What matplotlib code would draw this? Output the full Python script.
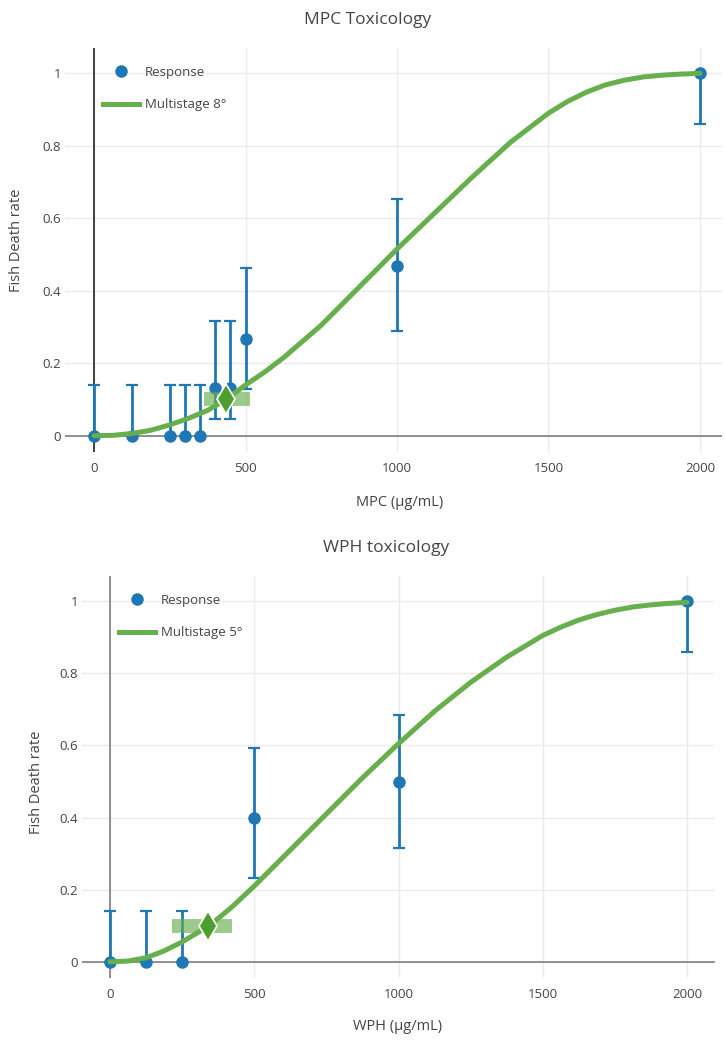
import matplotlib
matplotlib.use("Agg")
import matplotlib.pyplot as plt
from matplotlib.lines import Line2D

plt.rcParams["font.family"] = ["Open Sans", "DejaVu Sans"]

# MPC panel
mpc_dose = [0, 125, 250, 300, 350, 400, 450, 500, 1000, 2000]
mpc_resp = [0, 0, 0, 0, 0, 0.133, 0.133, 0.267, 0.467, 1.0]
mpc_lo = [0, 0, 0, 0, 0, 0.045, 0.045, 0.13, 0.288, 0.86]
mpc_hi = [0.14, 0.14, 0.14, 0.14, 0.14, 0.317, 0.317, 0.462, 0.654, 1.0]
mpc_fit_x = [0, 62, 125, 187, 250, 312, 375, 436, 500, 562, 625, 750, 875,
             1000, 1125, 1250, 1375, 1500, 1562, 1625, 1687, 1750, 1812,
             1875, 1937, 2000]
mpc_fit_y = [0, 0.001, 0.006, 0.015, 0.03, 0.048, 0.07, 0.1, 0.14, 0.175,
             0.215, 0.305, 0.41, 0.515, 0.615, 0.715, 0.81, 0.89, 0.922,
             0.948, 0.968, 0.981, 0.99, 0.995, 0.998, 1.0]
mpc_bmd = [363, 436, 515]  # BMDL, BMD, BMDU

# WPH panel
wph_dose = [0, 125, 250, 500, 1000, 2000]
wph_resp = [0, 0, 0, 0.4, 0.5, 1.0]
wph_lo = [0, 0, 0, 0.232, 0.316, 0.86]
wph_hi = [0.14, 0.14, 0.14, 0.593, 0.684, 1.0]
wph_fit_x = [0, 62, 125, 187, 250, 344, 420, 500, 625, 750, 875, 1000, 1125,
             1250, 1375, 1500, 1562, 1625, 1687, 1750, 1812, 1875, 1937, 2000]
wph_fit_y = [0, 0.002, 0.011, 0.03, 0.055, 0.1, 0.15, 0.21, 0.31, 0.41, 0.51,
             0.605, 0.695, 0.775, 0.845, 0.905, 0.928, 0.948, 0.963, 0.975,
             0.984, 0.99, 0.994, 0.997]
wph_bmd = [215, 340, 423]

BMR = 0.1
BLUE = "#1f77b4"
GREEN = "#67ae4c"
TEXT = "#444444"
W, H = 725, 1042


def fx(px):
    return px / W


def fy(py):
    return 1 - py / H


def panel(ax, dose, resp, lo, hi, fit_x, fit_y, bmd, xlim, fit_label, vline):
    yerr = [[r - l for r, l in zip(resp, lo)], [h - r for r, h in zip(resp, hi)]]
    ax.errorbar(dose, resp, yerr=yerr, fmt="o", color=BLUE, ms=8, elinewidth=2,
                capsize=4, capthick=1.6, zorder=3)
    ax.plot(fit_x, fit_y, color=GREEN, lw=3.6, zorder=4,
            solid_capstyle="round", solid_joinstyle="round")
    ax.plot([bmd[0], bmd[2]], [BMR, BMR], color=GREEN, alpha=0.65, lw=10,
            solid_capstyle="butt", zorder=5)
    ax.plot([bmd[1]], [BMR], marker="d", ms=15, color="#4c9e2e",
            mec="white", mew=1.2, zorder=6)

    ax.set_xlim(*xlim)
    ax.set_ylim(-0.045, 1.08)
    ax.set_xticks([0, 500, 1000, 1500, 2000])
    ax.set_yticks([0, 0.2, 0.4, 0.6, 0.8, 1])
    ax.set_yticklabels(["0", "0.2", "0.4", "0.6", "0.8", "1"])
    ax.grid(True, color="#ebebeb", lw=1)
    ax.set_axisbelow(True)
    ax.axhline(0, color="#888888", lw=1.3, zorder=1)
    ax.axvline(0, color=vline, lw=1.3, zorder=1)
    for s in ax.spines.values():
        s.set_visible(False)
    ax.tick_params(length=0, labelsize=9.5, labelcolor=TEXT)
    ax.tick_params(axis="x", pad=7)
    ax.tick_params(axis="y", pad=3)

    handles = [
        Line2D([], [], ls="none", marker="o", color=BLUE, ms=8),
        Line2D([], [], color=GREEN, lw=3.6),
    ]
    return handles, ["Response", fit_label]


fig = plt.figure(figsize=(W / 100, H / 100), dpi=100)

ax1 = fig.add_axes([fx(65), fy(452), fx(722 - 65), (452 - 48) / H])
ax1.set_ylim(-0.045, 1.07)
h, l = panel(ax1, mpc_dose, mpc_resp, mpc_lo, mpc_hi, mpc_fit_x, mpc_fit_y,
             mpc_bmd, (-96, 2073), "Multistage 8°", "#333333")
ax1.set_ylim(-0.045, 1.07)
fig.legend(h, l, loc="upper left", bbox_to_anchor=(fx(103), fy(66)),
           frameon=False, fontsize=9.5, labelcolor=TEXT, handlelength=2.7,
           handletextpad=0.5, labelspacing=1.45, borderpad=0, borderaxespad=0)

ax2 = fig.add_axes([fx(82), fy(978), fx(715 - 82), (978 - 576) / H])
h, l = panel(ax2, wph_dose, wph_resp, wph_lo, wph_hi, wph_fit_x, wph_fit_y,
             wph_bmd, (-97, 2097), "Multistage 5°", "#888888")
ax2.set_ylim(-0.045, 1.07)
fig.legend(h, l, loc="upper left", bbox_to_anchor=(fx(119), fy(594)),
           frameon=False, fontsize=9.5, labelcolor=TEXT, handlelength=2.7,
           handletextpad=0.5, labelspacing=1.45, borderpad=0, borderaxespad=0)

fig.text(fx(368), fy(20), "MPC Toxicology", ha="center", va="center",
         fontsize=12.5, color=TEXT)
fig.text(fx(386), fy(548), "WPH toxicology", ha="center", va="center",
         fontsize=12.5, color=TEXT)
fig.text(fx(400), fy(503), "MPC (µg/mL)", ha="center", va="center",
         fontsize=10.5, color=TEXT)
fig.text(fx(398), fy(1027), "WPH (µg/mL)", ha="center", va="center",
         fontsize=10.5, color=TEXT)
fig.text(fx(17), fy(240), "Fish Death rate", ha="center", va="center",
         rotation=90, fontsize=10.5, color=TEXT)
fig.text(fx(36), fy(782), "Fish Death rate", ha="center", va="center",
         rotation=90, fontsize=10.5, color=TEXT)

fig.savefig("out.png", dpi=100)
